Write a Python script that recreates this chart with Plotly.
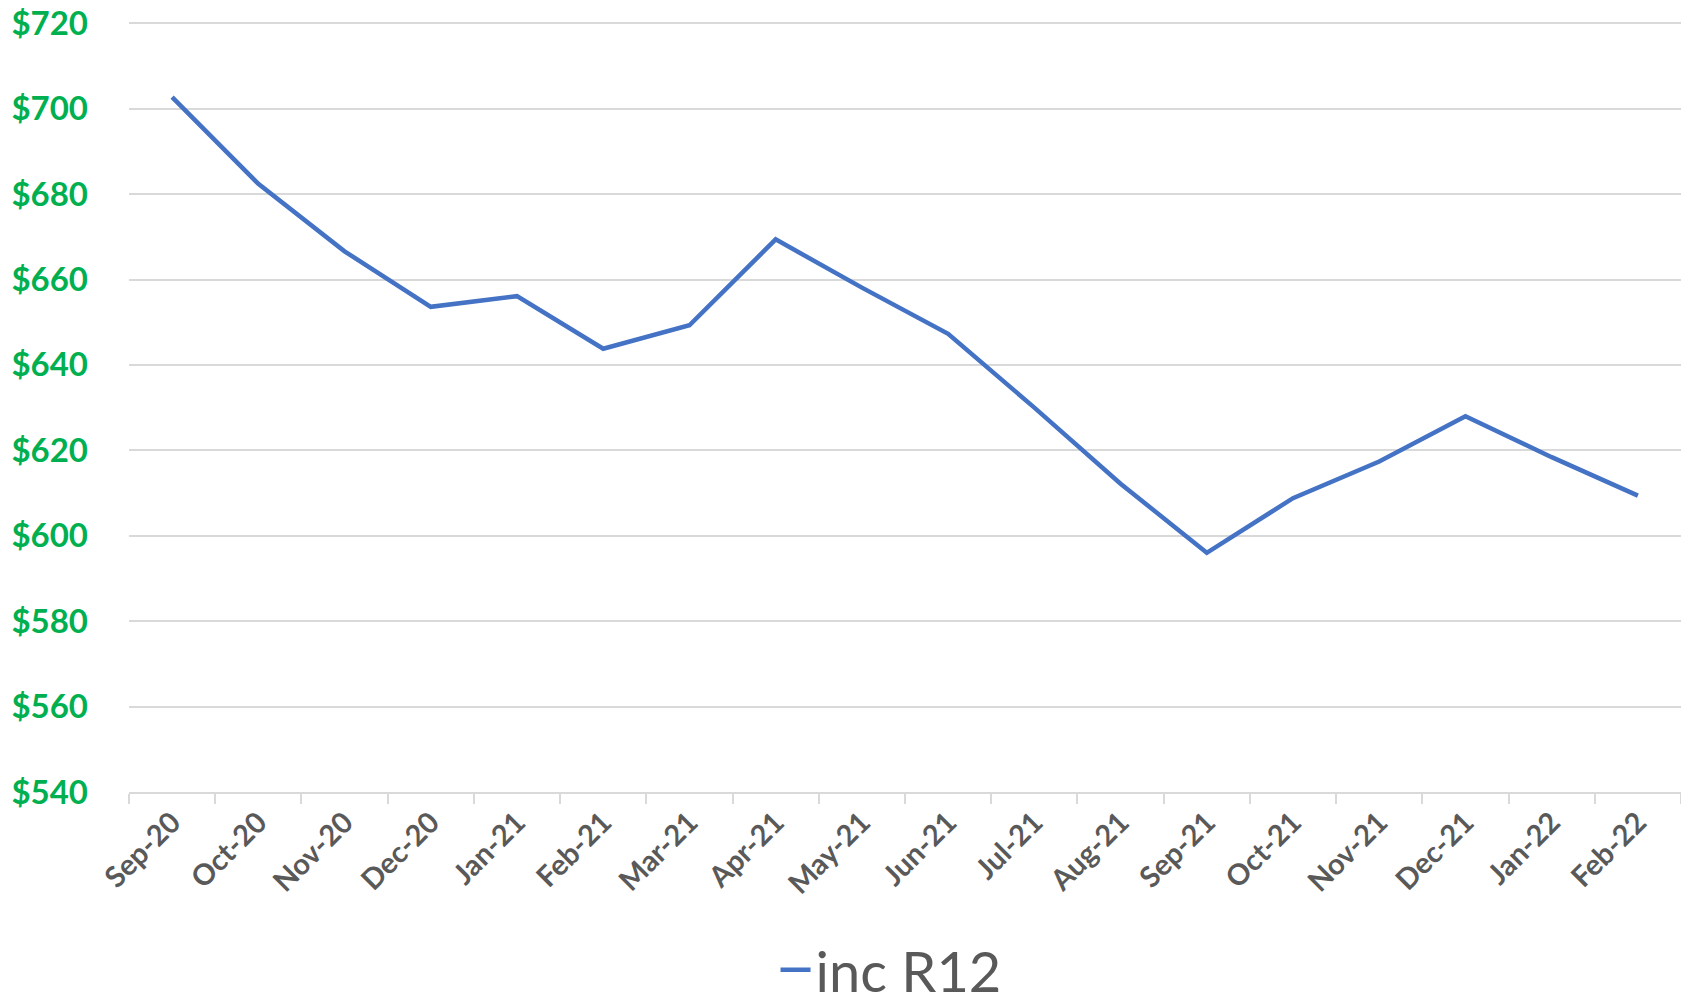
import plotly.graph_objects as go

months = ["Sep-20", "Oct-20", "Nov-20", "Dec-20", "Jan-21", "Feb-21", "Mar-21",
          "Apr-21", "May-21", "Jun-21", "Jul-21", "Aug-21", "Sep-21", "Oct-21",
          "Nov-21", "Dec-21", "Jan-22", "Feb-22"]
inc_r12 = [702.7, 682.4, 666.6, 653.6, 656.1, 643.8, 649.3, 669.4, 658.1,
           647.3, 630.0, 612.2, 596.0, 608.8, 617.4, 628.0, 618.4, 609.4]
y_ticks = [540, 560, 580, 600, 620, 640, 660, 680, 700, 720]
y_tick_labels = ["$" + str(v) for v in y_ticks]

fig = go.Figure()
fig.add_trace(go.Scatter(
    x=months, y=inc_r12, mode="lines", name="inc R12",
    line=dict(color="#4472C4", width=4.5),
))

fig.update_layout(
    width=1681, height=1005,
    margin=dict(l=129, r=0, t=22, b=213, autoexpand=False),
    paper_bgcolor="white", plot_bgcolor="white",
    font=dict(family="Lato", color="#595959"),
    showlegend=True,
    legend=dict(orientation="h", x=0.491, xanchor="center", y=-0.231, yanchor="middle",
                font=dict(size=56, color="#595959", family="Lato")),
    xaxis=dict(
        type="category", tickson="boundaries", ticks="outside", ticklen=10,
        tickcolor="#d9d9d9", tickwidth=1.5, showline=True, linecolor="#d9d9d9", linewidth=1.5,
        showgrid=False, tickangle=-45,
        tickfont=dict(family="Lato", size=29, color="#595959", weight="bold"),
        range=[-0.5, 17.5],
    ),
    yaxis=dict(
        range=[540, 720.3], tickvals=y_ticks, ticktext=y_tick_labels,
        showgrid=True, gridcolor="#d9d9d9", gridwidth=1.5, zeroline=False,
        showline=False, ticks="", ticklabelstandoff=40,
        tickfont=dict(family="Lato", size=33, color="#00B050", weight="bold"),
    ),
)

fig.write_html("out.html", config={"displayModeBar": False},
               post_script="document.body.style.margin='0';")
